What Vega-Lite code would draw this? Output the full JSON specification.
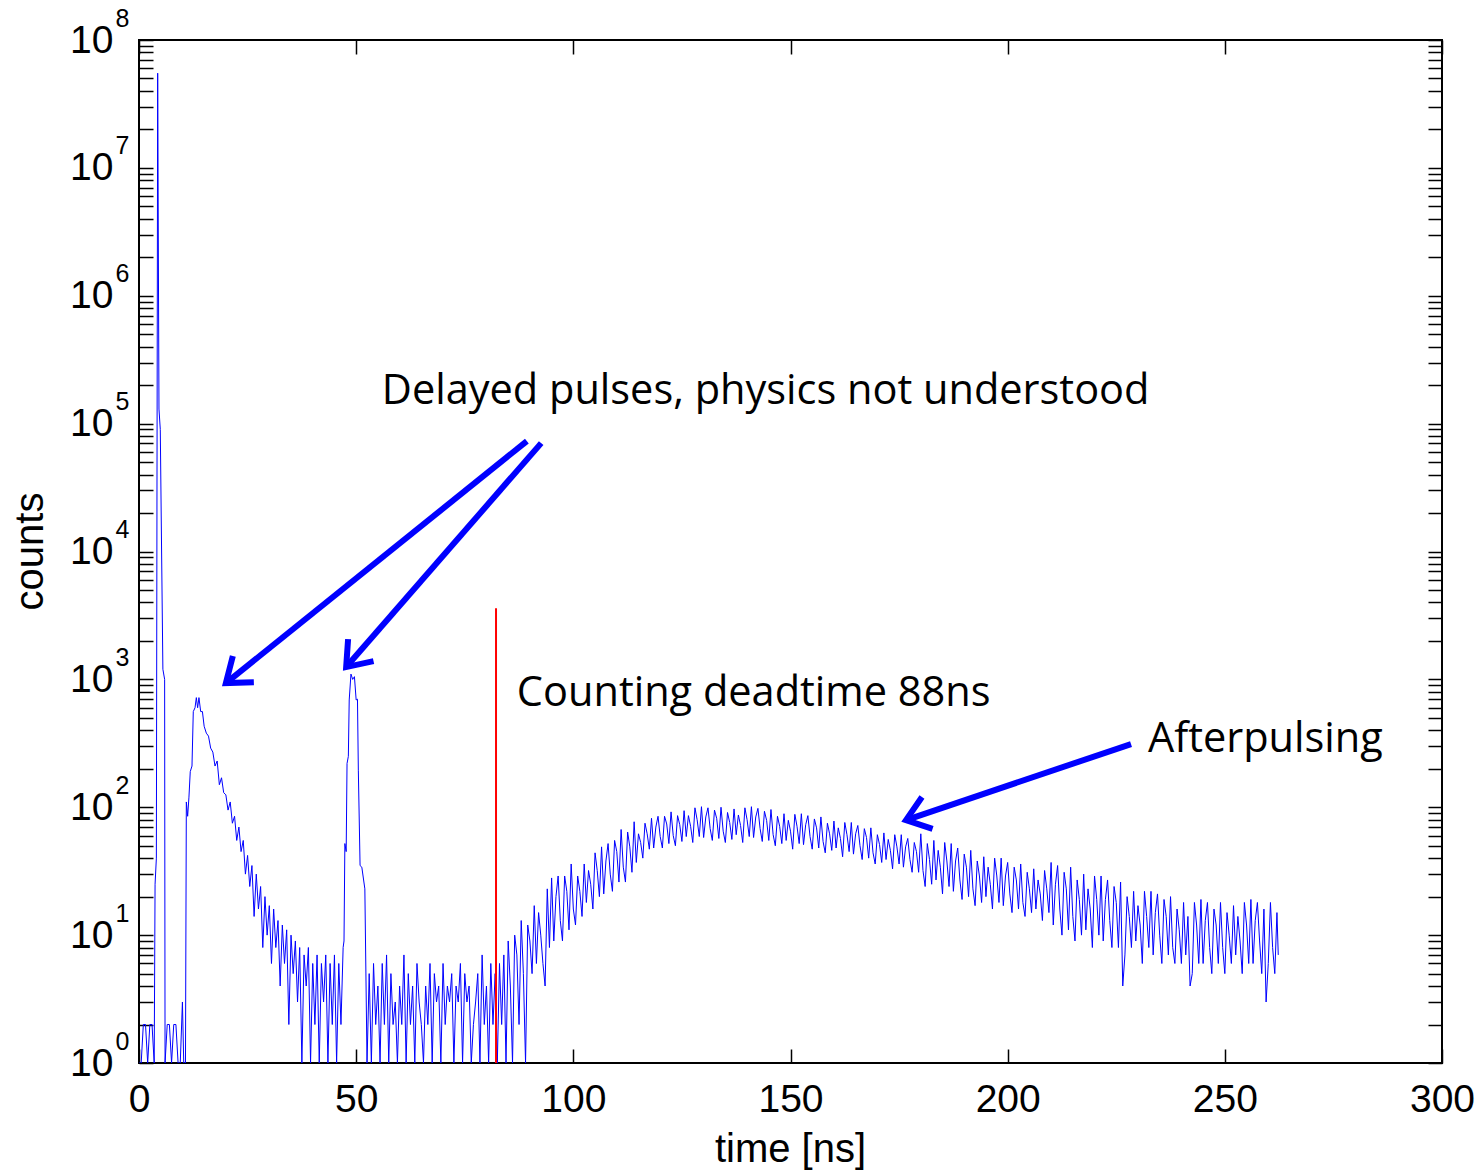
{
  "$schema": "https://vega.github.io/schema/vega-lite/v6.json",
  "width": 1303,
  "height": 1023,
  "autosize": {"type": "none"},
  "padding": {"left": 139, "top": 40, "right": 42, "bottom": 107},
  "background": "white",
  "config": {
    "view": {"stroke": "black", "strokeWidth": 2},
    "axis": {"domain": false, "grid": false, "labelFont": "Liberation Sans", "titleFont": "Liberation Sans", "labelColor": "black", "titleColor": "black", "tickColor": "black", "labelFontSize": 39, "titleFontSize": 40, "titleFontWeight": "normal", "tickSize": -14, "tickWidth": 1.5, "labelOverlap": false, "labelFlush": false}
  },
  "datasets": {
    "main": [
      {"t":0,"c":1},{"t":0.5,"c":1},{"t":1,"c":2},{"t":1.5,"c":2},{"t":2,"c":1},{"t":2.5,"c":2},{"t":3,"c":2},{"t":3.5,"c":1},
      {"t":3.7,"c":25},{"t":4.0,"c":40},{"t":4.3,"c":55000000},{"t":4.6,"c":130000},{"t":4.9,"c":90000},{"t":5.5,"c":1200},{"t":5.9,"c":1000},{"t":6.0,"c":1},
      {"t":6.5,"c":2},{"t":7,"c":2},{"t":7.5,"c":1},{"t":8,"c":2},{"t":8.5,"c":2},{"t":9,"c":1},{"t":9.5,"c":1},{"t":10,"c":3},{"t":10.3,"c":1},{"t":10.7,"c":1},
      {"t":10.9,"c":110},{"t":11.2,"c":85},{"t":11.5,"c":120},{"t":11.8,"c":190},{"t":12.2,"c":210},{"t":12.5,"c":560},{"t":12.9,"c":600},{"t":13.2,"c":720},{"t":13.5,"c":600},{"t":13.8,"c":720},{"t":14.2,"c":560},{"t":14.6,"c":560},
      {"t":15,"c":430},{"t":15.5,"c":380},{"t":16,"c":360},{"t":16.5,"c":290},{"t":17,"c":270},{"t":17.5,"c":210},{"t":18,"c":230},{"t":18.5,"c":150},{"t":19,"c":170},{"t":19.5,"c":130},
      {"t":20,"c":125},{"t":20.5,"c":95},{"t":21,"c":110},{"t":21.5,"c":75},{"t":22,"c":85},{"t":22.5,"c":55},{"t":23,"c":70},{"t":23.5,"c":45},{"t":24,"c":55},{"t":24.5,"c":30},
      {"t":25,"c":42},{"t":25.5,"c":24},{"t":26,"c":35},{"t":26.5,"c":14},{"t":27,"c":30},{"t":27.5,"c":16},{"t":28,"c":24},{"t":28.5,"c":8},{"t":29,"c":20},{"t":29.5,"c":10},
      {"t":30,"c":17},{"t":30.5,"c":6},{"t":31,"c":16},{"t":31.5,"c":8},{"t":32,"c":13},{"t":32.5,"c":4},{"t":33,"c":12},{"t":33.5,"c":6},{"t":34,"c":11},{"t":34.5,"c":2},
      {"t":35,"c":10},{"t":35.5,"c":5},{"t":36,"c":9},{"t":36.5,"c":3},{"t":37,"c":8},{"t":37.5,"c":1},{"t":38,"c":7},{"t":38.5,"c":4},{"t":39,"c":8},{"t":39.5,"c":1},
      {"t":40,"c":6},{"t":40.5,"c":2},{"t":41,"c":7},{"t":41.5,"c":1},{"t":42,"c":6},{"t":42.5,"c":3},{"t":43,"c":7},{"t":43.5,"c":1},{"t":44,"c":6},{"t":44.5,"c":2},
      {"t":45,"c":7},{"t":45.5,"c":1},{"t":46,"c":6},{"t":46.5,"c":2},{"t":47,"c":8},{"t":47.2,"c":9},{"t":47.4,"c":52},{"t":47.7,"c":45},{"t":47.9,"c":220},{"t":48.2,"c":250},
      {"t":48.4,"c":690},{"t":48.8,"c":1100},{"t":49.2,"c":1000},{"t":49.6,"c":1050},{"t":50,"c":690},{"t":50.3,"c":700},{"t":50.5,"c":195},{"t":50.9,"c":35},{"t":51.3,"c":34},{"t":52,"c":23},{"t":52.5,"c":1},
      {"t":53,"c":5},{"t":53.5,"c":1},{"t":54,"c":6},{"t":54.5,"c":2},{"t":55,"c":4},{"t":55.5,"c":1},{"t":56,"c":6},{"t":56.5,"c":2},{"t":57,"c":7},{"t":57.5,"c":1},
      {"t":58,"c":5},{"t":58.5,"c":2},{"t":59,"c":3},{"t":59.5,"c":1},{"t":60,"c":4},{"t":60.5,"c":2},{"t":61,"c":7},{"t":61.5,"c":1},{"t":62,"c":5},{"t":62.5,"c":2},
      {"t":63,"c":4},{"t":63.5,"c":1},{"t":64,"c":6},{"t":64.5,"c":3},{"t":65,"c":2},{"t":65.5,"c":1},{"t":66,"c":4},{"t":66.5,"c":2},{"t":67,"c":6},{"t":67.5,"c":1},
      {"t":68,"c":5},{"t":68.5,"c":3},{"t":69,"c":4},{"t":69.5,"c":1},{"t":70,"c":6},{"t":70.5,"c":2},{"t":71,"c":4},{"t":71.5,"c":3},{"t":72,"c":5},{"t":72.5,"c":1},
      {"t":73,"c":4},{"t":73.5,"c":3},{"t":74,"c":6},{"t":74.5,"c":1},{"t":75,"c":5},{"t":75.5,"c":3},{"t":76,"c":4},{"t":76.5,"c":1},{"t":77,"c":2},{"t":77.5,"c":3},
      {"t":78,"c":5},{"t":78.5,"c":1},{"t":79,"c":7},{"t":79.5,"c":2},{"t":80,"c":4},{"t":80.5,"c":1},{"t":81,"c":6},{"t":81.5,"c":2},{"t":82,"c":5},{"t":82.5,"c":1},
      {"t":83,"c":6},{"t":83.5,"c":2},{"t":84,"c":7},{"t":84.5,"c":1},
      {"t":85,"c":9},{"t":85.5,"c":4},{"t":86,"c":1},{"t":86.5,"c":10},{"t":87,"c":7},{"t":87.5,"c":2},{"t":88,"c":13},{"t":88.5,"c":5},{"t":89,"c":1},{"t":89.5,"c":12},
      {"t":90,"c":9},{"t":90.5,"c":5},{"t":91,"c":17},{"t":91.5,"c":6},{"t":92,"c":15},{"t":92.5,"c":10},{"t":93,"c":6},{"t":93.5,"c":4},{"t":94,"c":23},{"t":94.5,"c":8},
      {"t":95,"c":28},{"t":95.5,"c":9},{"t":96,"c":20},{"t":96.5,"c":29},{"t":97,"c":13},{"t":97.5,"c":9},{"t":98,"c":29},{"t":98.5,"c":22},{"t":99,"c":11},{"t":99.5,"c":36},
      {"t":100,"c":16},{"t":100.5,"c":12},{"t":101,"c":29},{"t":101.5,"c":22},{"t":102,"c":14},{"t":102.5,"c":36},{"t":103,"c":18},{"t":103.5,"c":32},{"t":104,"c":25},{"t":104.5,"c":16},
      {"t":105,"c":44},{"t":105.5,"c":32},{"t":106,"c":20},{"t":106.5,"c":49},{"t":107,"c":21},{"t":107.5,"c":38},{"t":108,"c":52},{"t":108.5,"c":30},{"t":109,"c":22},{"t":109.5,"c":55},
      {"t":110,"c":45},{"t":110.5,"c":26},{"t":111,"c":67},{"t":111.5,"c":34},{"t":112,"c":26},{"t":112.5,"c":64},{"t":113,"c":49},{"t":113.5,"c":31},{"t":114,"c":77},{"t":114.5,"c":37},
      {"t":115,"c":62},{"t":115.5,"c":53},{"t":116,"c":40},{"t":116.5,"c":75},{"t":117,"c":62},{"t":117.5,"c":47},{"t":118,"c":82},{"t":118.5,"c":48},{"t":119,"c":70},{"t":119.5,"c":85},
      {"t":120,"c":59},{"t":120.5,"c":48},{"t":121,"c":85},{"t":121.5,"c":74},{"t":122,"c":52},{"t":122.5,"c":92},{"t":123,"c":60},{"t":123.5,"c":50},{"t":124,"c":86},{"t":124.5,"c":73},
      {"t":125,"c":54},{"t":125.5,"c":94},{"t":126,"c":59},{"t":126.5,"c":86},{"t":127,"c":71},{"t":127.5,"c":53},{"t":128,"c":99},{"t":128.5,"c":80},{"t":129,"c":59},{"t":129.5,"c":101},
      {"t":130,"c":58},{"t":130.5,"c":84},{"t":131,"c":99},{"t":131.5,"c":68},{"t":132,"c":55},{"t":132.5,"c":95},{"t":133,"c":82},{"t":133.5,"c":57},{"t":134,"c":100},{"t":134.5,"c":65},
      {"t":135,"c":53},{"t":135.5,"c":91},{"t":136,"c":76},{"t":136.5,"c":56},{"t":137,"c":97},{"t":137.5,"c":61},{"t":138,"c":87},{"t":138.5,"c":72},{"t":139,"c":53},{"t":139.5,"c":99},
      {"t":140,"c":80},{"t":140.5,"c":59},{"t":141,"c":101},{"t":141.5,"c":58},{"t":142,"c":84},{"t":142.5,"c":98},{"t":143,"c":68},{"t":143.5,"c":54},{"t":144,"c":93},{"t":144.5,"c":79},
      {"t":145,"c":55},{"t":145.5,"c":96},{"t":146,"c":61},{"t":146.5,"c":50},{"t":147,"c":85},{"t":147.5,"c":71},{"t":148,"c":52},{"t":148.5,"c":89},{"t":149,"c":55},{"t":149.5,"c":79},
      {"t":150,"c":65},{"t":150.5,"c":47},{"t":151,"c":88},{"t":151.5,"c":71},{"t":152,"c":52},{"t":152.5,"c":89},{"t":153,"c":51},{"t":153.5,"c":73},{"t":154,"c":86},{"t":154.5,"c":59},
      {"t":155,"c":47},{"t":155.5,"c":81},{"t":156,"c":69},{"t":156.5,"c":48},{"t":157,"c":84},{"t":157.5,"c":54},{"t":158,"c":44},{"t":158.5,"c":75},{"t":159,"c":62},{"t":159.5,"c":46},
      {"t":160,"c":78},{"t":160.5,"c":48},{"t":161,"c":69},{"t":161.5,"c":57},{"t":162,"c":41},{"t":162.5,"c":76},{"t":163,"c":61},{"t":163.5,"c":45},{"t":164,"c":76},{"t":164.5,"c":43},
      {"t":165,"c":62},{"t":165.5,"c":72},{"t":166,"c":50},{"t":166.5,"c":39},{"t":167,"c":68},{"t":167.5,"c":58},{"t":168,"c":40},{"t":168.5,"c":69},{"t":169,"c":44},{"t":169.5,"c":36},
      {"t":170,"c":61},{"t":170.5,"c":51},{"t":171,"c":37},{"t":171.5,"c":63},{"t":172,"c":39},{"t":172.5,"c":56},{"t":173,"c":46},{"t":173.5,"c":33},{"t":174,"c":61},{"t":174.5,"c":49},
      {"t":175,"c":36},{"t":175.5,"c":61},{"t":176,"c":34},{"t":176.5,"c":49},{"t":177,"c":57},{"t":177.5,"c":39},{"t":178,"c":31},{"t":178.5,"c":53},{"t":179,"c":45},{"t":179.5,"c":31},
      {"t":180,"c":62},{"t":180.5,"c":32},{"t":181,"c":24},{"t":181.5,"c":52},{"t":182,"c":39},{"t":182.5,"c":25},{"t":183,"c":55},{"t":183.5,"c":27},{"t":184,"c":46},{"t":184.5,"c":34},
      {"t":185,"c":21},{"t":185.5,"c":53},{"t":186,"c":38},{"t":186.5,"c":24},{"t":187,"c":52},{"t":187.5,"c":22},{"t":188,"c":38},{"t":188.5,"c":48},{"t":189,"c":27},{"t":189.5,"c":19},
      {"t":190,"c":43},{"t":190.5,"c":34},{"t":191,"c":20},{"t":191.5,"c":46},{"t":192,"c":23},{"t":192.5,"c":17},{"t":193,"c":38},{"t":193.5,"c":29},{"t":194,"c":18},{"t":194.5,"c":41},
      {"t":195,"c":20},{"t":195.5,"c":34},{"t":196,"c":25},{"t":196.5,"c":16},{"t":197,"c":40},{"t":197.5,"c":29},{"t":198,"c":18},{"t":198.5,"c":40},{"t":199,"c":17},{"t":199.5,"c":29},
      {"t":200,"c":37},{"t":200.5,"c":21},{"t":201,"c":15},{"t":201.5,"c":34},{"t":202,"c":27},{"t":202.5,"c":16},{"t":203,"c":36},{"t":203.5,"c":18},{"t":204,"c":14},{"t":204.5,"c":31},
      {"t":205,"c":23},{"t":205.5,"c":15},{"t":206,"c":33},{"t":206.5,"c":16},{"t":207,"c":27},{"t":207.5,"c":21},{"t":208,"c":13},{"t":208.5,"c":32},{"t":209,"c":23},{"t":209.5,"c":15},
      {"t":210,"c":37},{"t":210.5,"c":12},{"t":211,"c":25},{"t":211.5,"c":35},{"t":212,"c":16},{"t":212.5,"c":10},{"t":213,"c":31},{"t":213.5,"c":23},{"t":214,"c":11},{"t":214.5,"c":34},
      {"t":215,"c":14},{"t":215.5,"c":9},{"t":216,"c":27},{"t":216.5,"c":19},{"t":217,"c":10},{"t":217.5,"c":30},{"t":218,"c":11},{"t":218.5,"c":23},{"t":219,"c":16},{"t":219.5,"c":8},
      {"t":220,"c":29},{"t":220.5,"c":19},{"t":221,"c":10},{"t":221.5,"c":29},{"t":222,"c":9},{"t":222.5,"c":19},{"t":223,"c":27},{"t":223.5,"c":13},{"t":224,"c":8},{"t":224.5,"c":24},
      {"t":225,"c":18},{"t":225.5,"c":8},{"t":226,"c":26},{"t":226.5,"c":4},{"t":227,"c":7},{"t":227.5,"c":20},{"t":228,"c":14},{"t":228.5,"c":8},{"t":229,"c":22},{"t":229.5,"c":9},
      {"t":230,"c":17},{"t":230.5,"c":12},{"t":231,"c":6},{"t":231.5,"c":22},{"t":232,"c":14},{"t":232.5,"c":8},{"t":233,"c":22},{"t":233.5,"c":7},{"t":234,"c":15},{"t":234.5,"c":21},
      {"t":235,"c":10},{"t":235.5,"c":6},{"t":236,"c":19},{"t":236.5,"c":14},{"t":237,"c":7},{"t":237.5,"c":20},{"t":238,"c":8},{"t":238.5,"c":6},{"t":239,"c":16},{"t":239.5,"c":11},
      {"t":240,"c":6},{"t":240.5,"c":18},{"t":241,"c":7},{"t":241.5,"c":14},{"t":242,"c":4},{"t":242.5,"c":5},{"t":243,"c":18},{"t":243.5,"c":12},{"t":244,"c":6},{"t":244.5,"c":19},
      {"t":245,"c":6},{"t":245.5,"c":13},{"t":246,"c":18},{"t":246.5,"c":8},{"t":247,"c":5},{"t":247.5,"c":16},{"t":248,"c":12},{"t":248.5,"c":6},{"t":249,"c":18},{"t":249.5,"c":8},
      {"t":250,"c":5},{"t":250.5,"c":15},{"t":251,"c":10},{"t":251.5,"c":6},{"t":252,"c":17},{"t":252.5,"c":7},{"t":253,"c":14},{"t":253.5,"c":9},{"t":254,"c":5},{"t":254.5,"c":18},
      {"t":255,"c":12},{"t":255.5,"c":6},{"t":256,"c":19},{"t":256.5,"c":6},{"t":257,"c":13},{"t":257.5,"c":18},{"t":258,"c":9},{"t":258.5,"c":5},{"t":259,"c":16},{"t":259.5,"c":3},
      {"t":260,"c":6},{"t":260.5,"c":18},{"t":261,"c":8},{"t":261.5,"c":5},{"t":262,"c":15},{"t":262.3,"c":7}
    ],
    "deadtime": [{"t": 82.2, "c": 1, "c2": 3600}],
    "arrows": [
      {"id": 1, "t": 89.3, "c": 73000, "t2": 20.0, "c2": 935},
      {"id": 2, "t": 92.6, "c": 70400, "t2": 47.7, "c2": 1248},
      {"id": 3, "t": 228.4, "c": 312, "t2": 176.6, "c2": 79.4}
    ],
    "notes": [
      {"t": 55.9, "c": 176000, "label": "Delayed pulses, physics not understood"},
      {"t": 87.0, "c": 767, "label": "Counting deadtime 88ns"},
      {"t": 232.3, "c": 335, "label": "Afterpulsing"}
    ]
  },
  "layer": [
    {
      "data": {"name": "main"},
      "mark": {"type": "line", "color": "#0000ff", "strokeWidth": 1, "clip": true},
      "encoding": {
        "x": {"field": "t", "type": "quantitative", "scale": {"domain": [0, 300], "nice": false, "zero": false},
          "axis": {"orient": "bottom", "values": [0, 50, 100, 150, 200, 250, 300], "title": "time [ns]", "labelPadding": 31, "labelBaseline": "top", "titleX": 651, "titleY": 86, "titleBaseline": "middle", "titleAnchor": null}},
        "y": {"field": "c", "type": "quantitative", "scale": {"type": "log", "domain": [1, 100000000], "nice": false},
          "axis": {"orient": "left", "values": [1,2,3,4,5,6,7,8,9,10,20,30,40,50,60,70,80,90,100,200,300,400,500,600,700,800,900,1000,2000,3000,4000,5000,6000,7000,8000,9000,10000,20000,30000,40000,50000,60000,70000,80000,90000,100000,200000,300000,400000,500000,600000,700000,800000,900000,1000000,2000000,3000000,4000000,5000000,6000000,7000000,8000000,9000000,10000000,20000000,30000000,40000000,50000000,60000000,70000000,80000000,90000000,100000000],
            "labelExpr": "indexof([1,10,100,1000,10000,100000,1000000,10000000,100000000], datum.value) >= 0 ? '10' : ''",
            "labelPadding": 40, "title": "counts", "titleX": -109, "titleY": 511, "titleAngle": 270, "titleBaseline": "middle", "titleAnchor": null}}
      }
    },
    {
      "data": {"name": "deadtime"},
      "mark": {"type": "rule", "color": "#ff0000", "strokeWidth": 2},
      "encoding": {
        "x": {"field": "t", "type": "quantitative", "scale": {"domain": [0, 300], "nice": false, "zero": false},
          "axis": {"orient": "top", "values": [0, 50, 100, 150, 200, 250, 300], "labels": false, "title": null}},
        "y": {"field": "c", "type": "quantitative", "scale": {"type": "log", "domain": [1, 100000000], "nice": false},
          "axis": {"orient": "right", "values": [1,2,3,4,5,6,7,8,9,10,20,30,40,50,60,70,80,90,100,200,300,400,500,600,700,800,900,1000,2000,3000,4000,5000,6000,7000,8000,9000,10000,20000,30000,40000,50000,60000,70000,80000,90000,100000,200000,300000,400000,500000,600000,700000,800000,900000,1000000,2000000,3000000,4000000,5000000,6000000,7000000,8000000,9000000,10000000,20000000,30000000,40000000,50000000,60000000,70000000,80000000,90000000,100000000], "labels": false, "title": null}},
        "y2": {"field": "c2"}
      }
    },
    {
      "data": {"name": "arrows"},
      "mark": {"type": "rule", "color": "#0000ff", "strokeWidth": 6},
      "encoding": {
        "x": {"field": "t", "type": "quantitative", "scale": {"domain": [0, 300], "nice": false, "zero": false}, "axis": null},
        "y": {"field": "c", "type": "quantitative", "scale": {"type": "log", "domain": [1, 100000000], "nice": false},
          "axis": {"orient": "left", "values": [1,10,100,1000,10000,100000,1000000,10000000,100000000], "ticks": false, "tickSize": 0, "labelAlign": "left", "labelPadding": 24, "labelBaseline": "alphabetic", "labelOffset": -14, "labelFontSize": 25,
            "labelExpr": "format(log(datum.value)/LN10, '.0f')", "title": null}},
        "x2": {"field": "t2"},
        "y2": {"field": "c2"}
      }
    },
    {
      "data": {"name": "arrows"},
      "transform": [{"filter": "datum.id == 1"}],
      "mark": {"type": "point", "shape": "M-0.6,0.8L0,0L0.6,0.8", "filled": false, "stroke": "#0000ff", "strokeWidth": 6, "size": 3136, "opacity": 1, "angle": 231.3, "strokeJoin": "miter"},
      "encoding": {
        "x": {"field": "t2", "type": "quantitative", "scale": {"domain": [0, 300], "nice": false, "zero": false}, "axis": null},
        "y": {"field": "c2", "type": "quantitative", "scale": {"type": "log", "domain": [1, 100000000], "nice": false}, "axis": null}
      }
    },
    {
      "data": {"name": "arrows"},
      "transform": [{"filter": "datum.id == 2"}],
      "mark": {"type": "point", "shape": "M-0.6,0.8L0,0L0.6,0.8", "filled": false, "stroke": "#0000ff", "strokeWidth": 6, "size": 3136, "opacity": 1, "angle": 220.8, "strokeJoin": "miter"},
      "encoding": {
        "x": {"field": "t2", "type": "quantitative", "scale": {"domain": [0, 300], "nice": false, "zero": false}, "axis": null},
        "y": {"field": "c2", "type": "quantitative", "scale": {"type": "log", "domain": [1, 100000000], "nice": false}, "axis": null}
      }
    },
    {
      "data": {"name": "arrows"},
      "transform": [{"filter": "datum.id == 3"}],
      "mark": {"type": "point", "shape": "M-0.6,0.8L0,0L0.6,0.8", "filled": false, "stroke": "#0000ff", "strokeWidth": 6, "size": 3136, "opacity": 1, "angle": 251.6, "strokeJoin": "miter"},
      "encoding": {
        "x": {"field": "t2", "type": "quantitative", "scale": {"domain": [0, 300], "nice": false, "zero": false}, "axis": null},
        "y": {"field": "c2", "type": "quantitative", "scale": {"type": "log", "domain": [1, 100000000], "nice": false}, "axis": null}
      }
    },
    {
      "data": {"name": "notes"},
      "mark": {"type": "text", "align": "left", "baseline": "middle", "font": "Open Sans", "fontSize": 41.5, "color": "black"},
      "encoding": {
        "x": {"field": "t", "type": "quantitative", "scale": {"domain": [0, 300], "nice": false, "zero": false}, "axis": null},
        "y": {"field": "c", "type": "quantitative", "scale": {"type": "log", "domain": [1, 100000000], "nice": false}, "axis": null},
        "text": {"field": "label"}
      }
    }
  ],
  "resolve": {"axis": {"x": "independent", "y": "independent"}}
}
